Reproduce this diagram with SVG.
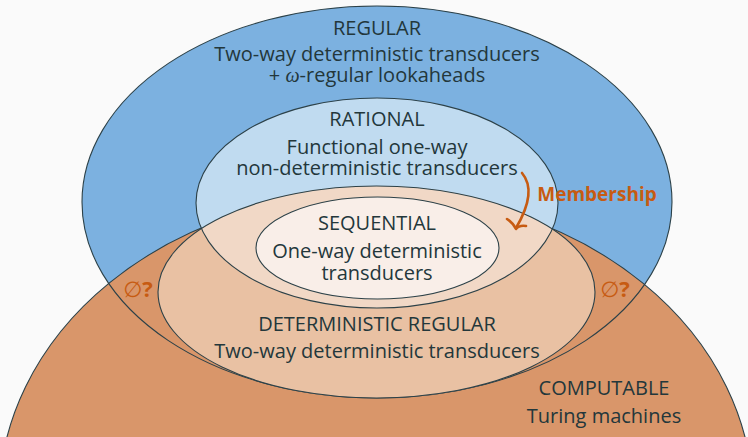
<svg xmlns="http://www.w3.org/2000/svg" width="748" height="437" viewBox="0 0 748 437">
  <defs>
    <clipPath id="clip-rational">
      <ellipse cx="377" cy="203" rx="181" ry="105"/>
    </clipPath>
    <style>
      .line { fill: none; stroke: #2c4148; stroke-width: 1.1; }
      .title { font-family: "Open Sans", "Noto Sans", "DejaVu Sans", sans-serif; font-size: 20px; fill: #23373b; text-anchor: middle; }
      .sub { font-family: "Open Sans", "Noto Sans", "DejaVu Sans", sans-serif; font-size: 20px; fill: #23373b; text-anchor: middle; }
      .accent { font-family: "Open Sans", "Noto Sans", "DejaVu Sans", sans-serif; fill: #c75b12; text-anchor: middle; }
    </style>
  </defs>

  <rect width="748" height="437" fill="#fafafa"/>

  <!-- REGULAR -->
  <g id="regular">
    <ellipse cx="377" cy="202" rx="295" ry="196" fill="#7cb1e0"/>
  </g>

  <!-- COMPUTABLE -->
  <g id="computable">
    <ellipse cx="376" cy="500" rx="377" ry="307" fill="#d9966a"/>
    <ellipse class="line" cx="376" cy="500" rx="377" ry="307"/>
    <text class="title" x="604" y="395">COMPUTABLE</text>
    <text class="sub" x="604" y="423">Turing machines</text>
  </g>

  <!-- outline of REGULAR drawn over the computable area -->
  <ellipse class="line" cx="377" cy="202" rx="295" ry="196"/>

  <!-- RATIONAL -->
  <g id="rational">
    <ellipse cx="377" cy="203" rx="181" ry="105" fill="#c0dbf0"/>
  </g>

  <!-- DETERMINISTIC REGULAR -->
  <g id="deterministic-regular">
    <ellipse cx="376.5" cy="292" rx="218.5" ry="106" fill="#e9c1a3"/>
    <ellipse cx="376.5" cy="292" rx="218.5" ry="106" fill="#f1d8c6" clip-path="url(#clip-rational)"/>
    <ellipse class="line" cx="377" cy="203" rx="181" ry="105"/>
    <ellipse class="line" cx="376.5" cy="292" rx="218.5" ry="106"/>
    <text class="title" x="377" y="331">DETERMINISTIC REGULAR</text>
    <text class="sub" x="377" y="358">Two-way deterministic transducers</text>
  </g>

  <!-- SEQUENTIAL -->
  <g id="sequential">
    <ellipse cx="377.5" cy="248" rx="121.5" ry="51" fill="#f9eee8"/>
    <ellipse class="line" cx="377.5" cy="248" rx="121.5" ry="51"/>
    <text class="title" x="377" y="230">SEQUENTIAL</text>
    <text class="sub" x="377" y="258">One-way deterministic</text>
    <text class="sub" x="377" y="280">transducers</text>
  </g>

  <!-- labels of the outer classes -->
  <g id="regular-label">
    <text class="title" x="377" y="35">REGULAR</text>
    <text class="sub" x="377" y="61">Two-way deterministic transducers</text>
    <text class="sub" x="377" y="82">+ <tspan font-style="italic" font-family="'Liberation Serif', serif">ω</tspan>-regular lookaheads</text>
  </g>
  <g id="rational-label">
    <text class="title" x="377" y="126">RATIONAL</text>
    <text class="sub" x="377" y="154">Functional one-way</text>
    <text class="sub" x="377" y="175">non-deterministic transducers</text>
  </g>

  <!-- open questions -->
  <g id="open-left">
    <text class="accent" x="138" y="297" font-size="22"><tspan font-family="'DejaVu Sans', sans-serif" font-weight="normal">∅</tspan><tspan font-weight="bold">?</tspan></text>
  </g>
  <g id="open-right">
    <text class="accent" x="615" y="297" font-size="22"><tspan font-family="'DejaVu Sans', sans-serif" font-weight="normal">∅</tspan><tspan font-weight="bold">?</tspan></text>
  </g>

  <!-- membership arrow -->
  <g id="connectors">
    <path d="M522,173 C533,186 529,206 516,228" fill="none" stroke="#c75b12" stroke-width="2.6" stroke-linecap="round"/>
    <path d="M507,219 Q513,223 516,229 Q519,225 526,226" fill="none" stroke="#c75b12" stroke-width="2.6" stroke-linecap="round" stroke-linejoin="round"/>
  </g>
  <g id="membership">
    <text class="accent" x="597" y="201" font-size="19" font-weight="bold">Membership</text>
  </g>
</svg>
